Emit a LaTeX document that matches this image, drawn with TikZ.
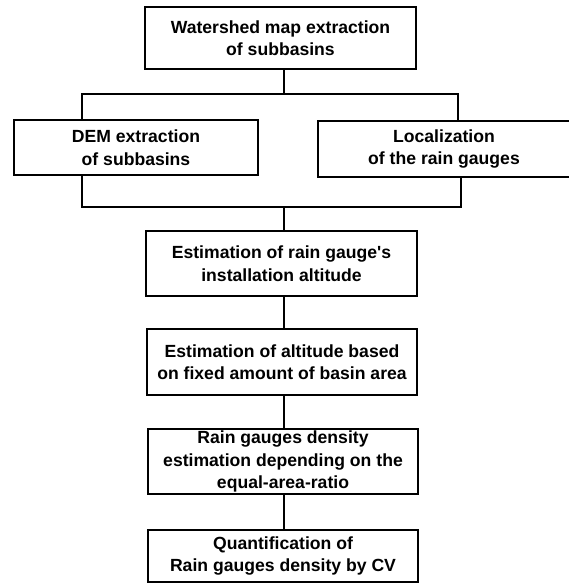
\documentclass[tikz,border=0pt]{standalone}
\usepackage{fontspec}
\setmainfont{Liberation Sans}
\usetikzlibrary{calc}

\begin{document}
\begin{tikzpicture}[
  x=1pt, y=-1pt,
  stepbox/.style={draw, line width=1.4pt, inner sep=0pt, align=center,
              font=\fontsize{17.6}{22.5}\selectfont\bfseries},
  link/.style={line width=1.4pt}
]
\useasboundingbox (0,0) rectangle (568,583);
\node[stepbox, minimum width=271pt, minimum height=62pt] (wsmap) at (280.5,38) {
  Watershed map extraction\\of subbasins};
\node[stepbox, minimum width=244pt, minimum height=55pt] (dem) at (136,147.5) {
  DEM extraction\\of subbasins};
\node[stepbox, minimum width=252pt, minimum height=56pt] (loc) at (444,149) {
  Localization\\of the rain gauges};
\node[stepbox, minimum width=271pt, minimum height=65pt] (instalt) at (281.5,263.5) {
  Estimation of rain gauge\textquotesingle s\\installation altitude};
\node[stepbox, minimum width=270pt, minimum height=66pt] (basalt) at (282,362) {
  Estimation of altitude based\\on fixed amount of basin area};
\node[stepbox, minimum width=270pt, minimum height=65pt] (density) at (283,461.5) {
  Rain gauges density\\estimation depending on the\\equal-area-ratio};
\node[stepbox, minimum width=270pt, minimum height=52pt] (quant) at (283,556) {
  Quantification of\\Rain gauges density by CV};
% Connecting structure
\coordinate (upL) at (82,94);
\coordinate (upM) at (284,94);
\coordinate (upR) at (458,94);
\coordinate (dnL) at (82,207);
\coordinate (dnM) at (284,207);
\coordinate (dnR) at (461,207);
\draw[link] (wsmap.south -| upM) -- (upM);
\draw[link] (dem.north -| upL) -- (upL) -- (upR) -- (loc.north -| upR);
\draw[link] (dem.south -| dnL) -- (dnL) -- (dnR) -- (loc.south -| dnR);
\draw[link] (dnM) -- (instalt.north -| dnM);
\draw[link] (instalt.south -| dnM) -- (basalt.north -| dnM);
\draw[link] (basalt.south -| dnM) -- (density.north -| dnM);
\draw[link] (density.south -| dnM) -- (quant.north -| dnM);
\end{tikzpicture}
\end{document}
